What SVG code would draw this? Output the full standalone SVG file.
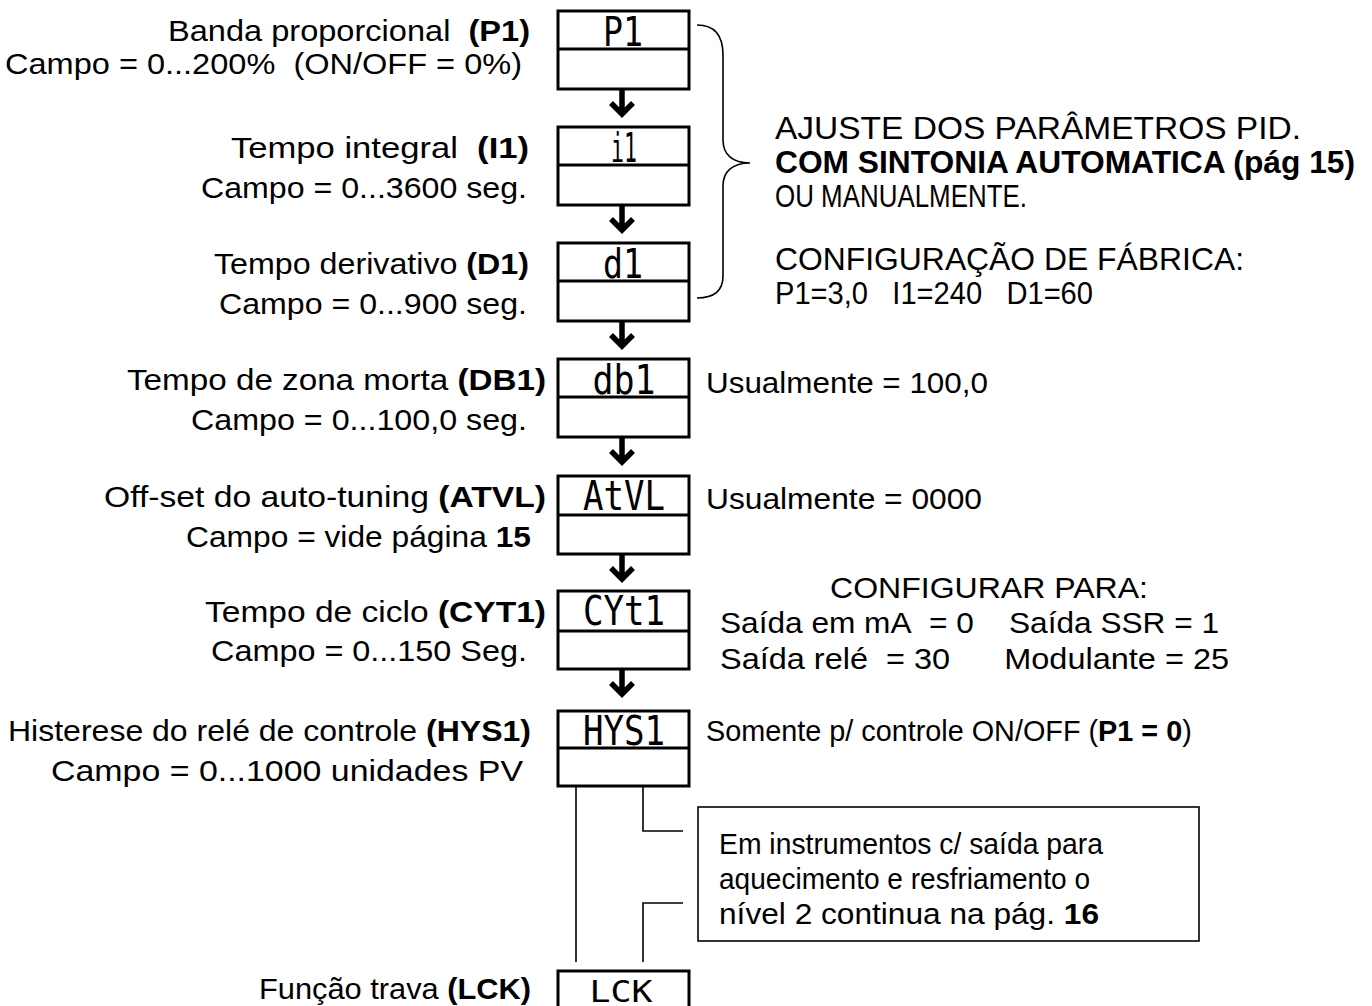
<svg xmlns="http://www.w3.org/2000/svg" xmlns:xlink="http://www.w3.org/1999/xlink" width="1372" height="1006" viewBox="0 0 1372 1006">
<style>
.t{font-family:"Liberation Sans",Arial,sans-serif;font-size:30px;fill:#000}
.e{text-anchor:end}
.n{font-family:"Liberation Sans",Arial,sans-serif;font-size:32px;fill:#000}
.b{font-weight:bold}
.box{fill:#fff;stroke:#000;stroke-width:3}
.div{stroke:#000;stroke-width:3}
.d{font-family:"DejaVu Sans Mono","DejaVu Sans",monospace;font-size:40px;text-anchor:middle;fill:#000}
.ln{fill:none;stroke:#000;stroke-width:1.6}
</style>
<defs>
<path id="arr" d="M0,0 V24 M-11,13 L0,24 L11,13" fill="none" stroke="#000" stroke-width="5.5"/>
</defs>
<rect width="1372" height="1006" fill="#fff"/>

<g id="connectors">
<use xlink:href="#arr" x="622" y="90"/>
<use xlink:href="#arr" x="622" y="206"/>
<use xlink:href="#arr" x="622" y="322"/>
<use xlink:href="#arr" x="622" y="438"/>
<use xlink:href="#arr" x="622" y="555"/>
<use xlink:href="#arr" x="622" y="670"/>
<path class="ln" d="M576,786 V962"/>
<path class="ln" d="M643,786 V831 H683"/>
<path class="ln" d="M683,903 H643 V962"/>
<path class="ln" d="M697,25 C715,25 723,35 723,55 L723,140 C723,155 733,163 750,163 C733,163 723,171 723,186 L723,276 C723,290 715,298 697,298"/>
</g>

<g id="node-p1">
<rect class="box" x="558" y="11" width="131" height="78"/><line class="div" x1="558" y1="49" x2="689" y2="49"/>
<text class="d" x="623" y="46" textLength="40" lengthAdjust="spacingAndGlyphs">P1</text>
<text class="t e" x="530" y="41" textLength="362" lengthAdjust="spacingAndGlyphs">Banda proporcional&#160; <tspan class="b">(P1)</tspan></text>
<text class="t e" x="522" y="74" textLength="517" lengthAdjust="spacingAndGlyphs">Campo = 0...200%&#160; (ON/OFF = 0%)</text>
</g>

<g id="node-i1">
<rect class="box" x="558" y="127" width="131" height="78"/><line class="div" x1="558" y1="165" x2="689" y2="165"/>
<text class="d" x="624" y="162" textLength="26" lengthAdjust="spacingAndGlyphs">i1</text>
<text class="t e" x="529" y="158" textLength="298" lengthAdjust="spacingAndGlyphs">Tempo integral&#160; <tspan class="b">(I1)</tspan></text>
<text class="t e" x="527" y="198" textLength="326" lengthAdjust="spacingAndGlyphs">Campo = 0...3600 seg.</text>
</g>

<g id="node-d1">
<rect class="box" x="558" y="243" width="131" height="78"/><line class="div" x1="558" y1="281" x2="689" y2="281"/>
<text class="d" x="623" y="278" textLength="40" lengthAdjust="spacingAndGlyphs">d1</text>
<text class="t e" x="529" y="274" textLength="315" lengthAdjust="spacingAndGlyphs">Tempo derivativo <tspan class="b">(D1)</tspan></text>
<text class="t e" x="527" y="314" textLength="308" lengthAdjust="spacingAndGlyphs">Campo = 0...900 seg.</text>
</g>

<g id="node-db1">
<rect class="box" x="558" y="359" width="131" height="78"/><line class="div" x1="558" y1="397" x2="689" y2="397"/>
<text class="d" x="624" y="394" textLength="63" lengthAdjust="spacingAndGlyphs">db1</text>
<text class="t e" x="546" y="390" textLength="419" lengthAdjust="spacingAndGlyphs">Tempo de zona morta <tspan class="b">(DB1)</tspan></text>
<text class="t e" x="527" y="430" textLength="336" lengthAdjust="spacingAndGlyphs">Campo = 0...100,0 seg.</text>
<text class="t" x="706" y="393" textLength="282" lengthAdjust="spacingAndGlyphs">Usualmente = 100,0</text>
</g>

<g id="node-atvl">
<rect class="box" x="558" y="476" width="131" height="78"/><line class="div" x1="558" y1="515" x2="689" y2="515"/>
<text class="d" x="624" y="510" textLength="82" lengthAdjust="spacingAndGlyphs">AtVL</text>
<text class="t e" x="546" y="507" textLength="442" lengthAdjust="spacingAndGlyphs">Off-set do auto-tuning <tspan class="b">(ATVL)</tspan></text>
<text class="t e" x="531" y="547" textLength="345" lengthAdjust="spacingAndGlyphs">Campo = vide página <tspan class="b">15</tspan></text>
<text class="t" x="706" y="509" textLength="276" lengthAdjust="spacingAndGlyphs">Usualmente = 0000</text>
</g>

<g id="node-cyt1">
<rect class="box" x="558" y="591" width="131" height="78"/><line class="div" x1="558" y1="631" x2="689" y2="631"/>
<text class="d" x="624" y="625" textLength="82" lengthAdjust="spacingAndGlyphs">CYt1</text>
<text class="t e" x="546" y="622" textLength="341" lengthAdjust="spacingAndGlyphs">Tempo de ciclo <tspan class="b">(CYT1)</tspan></text>
<text class="t e" x="527" y="661" textLength="316" lengthAdjust="spacingAndGlyphs">Campo = 0...150 Seg.</text>
<text class="t" x="830" y="598" textLength="318" lengthAdjust="spacingAndGlyphs">CONFIGURAR PARA:</text>
<text class="t" x="720" y="633" textLength="499" lengthAdjust="spacingAndGlyphs">Saída em mA&#160; = 0&#160;&#160;&#160; Saída SSR = 1</text>
<text class="t" x="720" y="669" textLength="509" lengthAdjust="spacingAndGlyphs">Saída relé&#160; = 30&#160;&#160;&#160;&#160;&#160; Modulante = 25</text>
</g>

<g id="node-hys1">
<rect class="box" x="558" y="711" width="131" height="75"/><line class="div" x1="558" y1="748" x2="689" y2="748"/>
<text class="d" x="624" y="745" textLength="82" lengthAdjust="spacingAndGlyphs">HYS1</text>
<text class="t e" x="531" y="741" textLength="523" lengthAdjust="spacingAndGlyphs">Histerese do relé de controle <tspan class="b">(HYS1)</tspan></text>
<text class="t e" x="523" y="781" textLength="472" lengthAdjust="spacingAndGlyphs">Campo = 0...1000 unidades PV</text>
<text class="t" x="706" y="741" style="font-size:28.8px">Somente p/ controle ON/OFF (<tspan class="b">P1 = 0</tspan>)</text>
</g>

<g id="node-lck">
<rect class="box" x="558" y="971" width="131" height="78"/>
<text class="d" x="621" y="1002" style="font-size:30px" textLength="63" lengthAdjust="spacingAndGlyphs">LCK</text>
<text class="t e" x="531" y="999" textLength="272" lengthAdjust="spacingAndGlyphs">Função trava <tspan class="b">(LCK)</tspan></text>
</g>

<g id="note-pid">
<text class="n" x="775" y="139" textLength="526" lengthAdjust="spacingAndGlyphs">AJUSTE DOS PARÂMETROS PID.</text>
<text class="n b" x="775" y="173" textLength="580" lengthAdjust="spacingAndGlyphs">COM SINTONIA AUTOMATICA (pág 15)</text>
<text class="n" x="775" y="207" textLength="252" lengthAdjust="spacingAndGlyphs">OU MANUALMENTE.</text>
<text class="n" x="775" y="270" textLength="469" lengthAdjust="spacingAndGlyphs">CONFIGURAÇÃO DE FÁBRICA:</text>
<text class="n" x="775" y="304" textLength="318" lengthAdjust="spacingAndGlyphs">P1=3,0&#160;&#160; I1=240&#160;&#160; D1=60</text>
</g>

<g id="note-level2">
<rect x="698" y="807" width="501" height="134" fill="#fff" stroke="#000" stroke-width="1.6"/>
<text class="t" x="719" y="854" textLength="384" lengthAdjust="spacingAndGlyphs">Em instrumentos c/ saída para</text>
<text class="t" x="719" y="889" textLength="371" lengthAdjust="spacingAndGlyphs">aquecimento e resfriamento o</text>
<text class="t" x="719" y="924" textLength="380" lengthAdjust="spacingAndGlyphs">nível 2 continua na pág. <tspan class="b">16</tspan></text>
</g>
</svg>
